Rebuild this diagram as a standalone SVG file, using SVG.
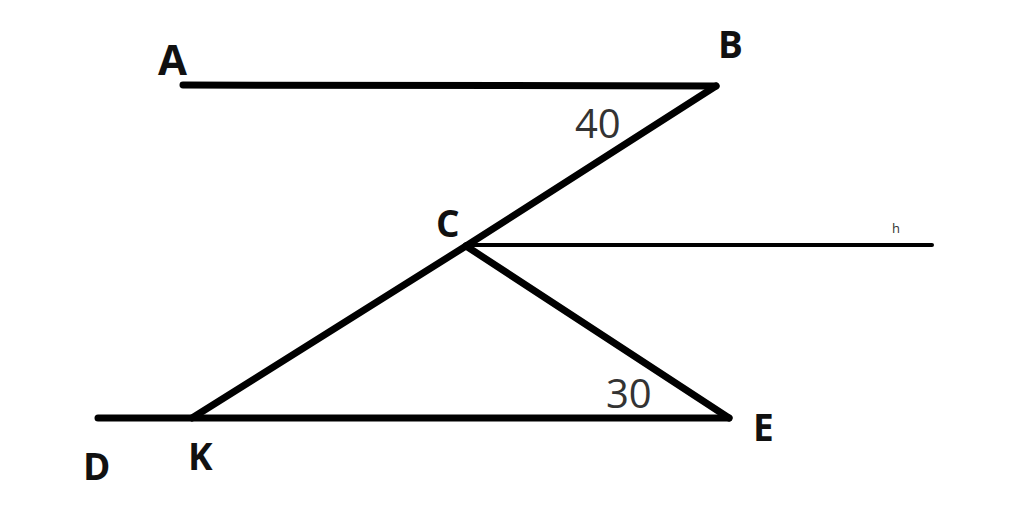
<svg xmlns="http://www.w3.org/2000/svg" width="1024" height="526" viewBox="0 0 1024 526">
<style>
.seg{stroke:#000;stroke-width:7;stroke-linecap:round;fill:none}
.thin{stroke:#000;stroke-width:4;stroke-linecap:round;fill:none}
.lbl{font-family:"Open Sans","Liberation Sans",sans-serif;font-weight:bold;fill:#111;font-size:37px}
.num{font-family:"Open Sans","Liberation Sans",sans-serif;fill:#333;font-size:40px}
</style>
<rect width="1024" height="526" fill="#fff"/>
<g id="connectors">
<line class="seg" x1="183" y1="85" x2="716" y2="86"/>
<line class="seg" x1="716" y1="86" x2="466" y2="246"/>
<line class="seg" x1="466" y1="246" x2="192" y2="418"/>
<line class="seg" x1="466" y1="246" x2="729" y2="418"/>
<line class="seg" x1="98" y1="418" x2="729" y2="418"/>
<line class="thin" x1="468" y1="245" x2="932" y2="245"/>
</g>
<g id="A"><text class="lbl" x="158" y="75" style="font-size:42px">A</text></g>
<g id="B"><text class="lbl" x="718" y="58">B</text></g>
<g id="C"><text class="lbl" x="436" y="237">C</text></g>
<g id="D"><text class="lbl" x="83" y="480">D</text></g>
<g id="K"><text class="lbl" x="188" y="470">K</text></g>
<g id="E"><text class="lbl" x="753" y="441">E</text></g>
<g id="angle40"><text class="num" x="575" y="138">40</text></g>
<g id="angle30"><text class="num" x="606" y="408">30</text></g>
<g id="h"><text class="num" x="892" y="233" style="font-size:13px">h</text></g>
</svg>
